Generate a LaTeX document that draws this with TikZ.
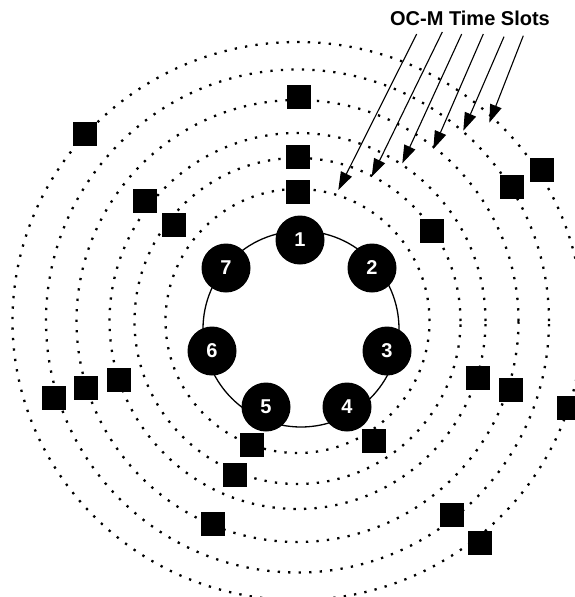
\documentclass[tikz,border=0pt]{standalone}
\usepackage{fontspec}
\newfontfamily\lab{Liberation Sans}
\usetikzlibrary{arrows.meta}
\tikzset{
  ring/.style={line width=2.3pt, line cap=butt, dash pattern=on 2.3pt off 8.2pt},
  slot/.style={fill=black, draw=none, minimum size=24pt, inner sep=0pt, rectangle},
  station/.style={circle, fill=black, draw=none, minimum size=49pt, inner sep=0pt,
    text=white, font=\lab\bfseries\fontsize{20}{22}\selectfont},
  pointer/.style={line width=1.1pt, -{Triangle[length=18pt,width=12pt]}}
}
\begin{document}
\begin{tikzpicture}[x=1pt,y=-1pt]
\useasboundingbox (0,0) rectangle (575,597);
\clip (0,0) rectangle (575,597);
\fill[white] (0,0) rectangle (575,597);
% dotted rings
\coordinate (c) at (297.5,321);
\draw[ring] (c) circle[radius=132pt];
\draw[ring] (c) circle[radius=163pt];
\draw[ring] (c) circle[radius=188pt];
\draw[ring] (c) circle[radius=221pt];
\draw[ring] (c) circle[radius=251.5pt];
\draw[ring] (c) ellipse[x radius=285pt, y radius=279pt];
% thin ring
\draw[line width=1.3pt] (301,329) circle[radius=98pt];
% stations
\node[station] (n1) at (300,240) {1};
\node[station] (n2) at (372,268) {2};
\node[station] (n3) at (387,351) {3};
\node[station] (n4) at (347,407) {4};
\node[station] (n5) at (266,407) {5};
\node[station] (n6) at (212,351) {6};
\node[station] (n7) at (226,268) {7};
% time slots
\node[slot] (s1) at (299,97) {};
\node[slot] (s2) at (298,157) {};
\node[slot] (s3) at (298,192) {};
\node[slot] (s4) at (85,134) {};
\node[slot] (s5) at (145,201) {};
\node[slot] (s6) at (174,225) {};
\node[slot] (s7) at (512,187) {};
\node[slot] (s8) at (542,170) {};
\node[slot] (s9) at (432,231) {};
\node[slot] (s10) at (54,398) {};
\node[slot] (s11) at (86,388) {};
\node[slot] (s12) at (119,380) {};
\node[slot] (s13) at (252,445) {};
\node[slot] (s14) at (235,475) {};
\node[slot] (s15) at (213,524) {};
\node[slot] (s16) at (478,378) {};
\node[slot] (s17) at (511,390) {};
\node[slot] (s18) at (569,408) {};
\node[slot] (s19) at (374,441) {};
\node[slot] (s20) at (452,515) {};
\node[slot] (s21) at (480,543) {};
% label
\node[anchor=base, inner sep=0pt, font=\lab\bfseries\fontsize{20}{24}\selectfont] (lbl) at (470,25.5) {OC-M Time Slots};
% arrows
\coordinate (a1) at (416.7,34);   \coordinate (b1) at (338.3,190);
\coordinate (a2) at (442.3,32);   \coordinate (b2) at (371.7,176.7);
\coordinate (a3) at (461.7,34);   \coordinate (b3) at (402.3,163.3);
\coordinate (a4) at (483.3,34);   \coordinate (b4) at (433.3,149);
\coordinate (a5) at (504,36.7);   \coordinate (b5) at (463.3,130.7);
\coordinate (a6) at (523.3,35.7); \coordinate (b6) at (489.3,122.7);
\foreach \i in {1,...,6} \draw[pointer] (a\i) -- (b\i);
\end{tikzpicture}
\end{document}
